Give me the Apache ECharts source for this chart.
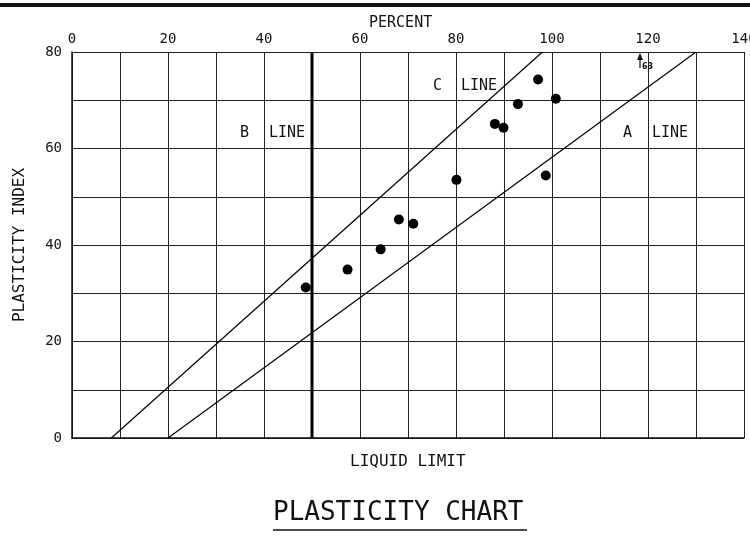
<!DOCTYPE html>
<html>
<head>
<meta charset="utf-8">
<script src="https://cdn.jsdelivr.net/npm/echarts@6/dist/echarts.min.js"></script>
<style>
html,body{margin:0;padding:0;background:#fff;}
#chart{width:750px;height:537px;}
</style>
</head>
<body>
<div id="chart"></div>
<script>
// Data
const liquidLimit = [48.7, 57.4, 64.3, 68.1, 71.1, 80.1, 88.1, 89.9, 92.9, 97.1, 100.8, 98.7];
const plasticityIndex = [31.2, 34.9, 39.1, 45.3, 44.4, 53.5, 65.1, 64.3, 69.2, 74.3, 70.3, 54.4];
const cLineLL = [8.2, 98];
const cLinePI = [0, 80];
const aLineLL = [20, 130];
const aLinePI = [0, 80];
const bLineLL = [50, 50];
const bLinePI = [0, 80];
const xTickLabels = [0, 20, 40, 60, 80, 100, 120, 140];
const yTickLabels = [0, 20, 40, 60, 80];

const FONT = 'DejaVu Sans Mono';
const zip = (a, b) => a.map((v, i) => [v, b[i]]);

const chart = echarts.init(document.getElementById('chart'), null, {renderer: 'canvas'});
const grid = {left: 72, top: 52, width: 672, height: 386, containLabel: false, outerBoundsMode: 'none'};

const option = {
  backgroundColor: '#ffffff',
  animation: false,
  grid: grid,
  xAxis: {
    type: 'value', position: 'top', min: 0, max: 140, interval: 10,
    axisLine: {show: true, lineStyle: {color: '#111', width: 1.5}},
    axisTick: {show: false},
    splitLine: {show: true, lineStyle: {color: '#222', width: 1}},
    axisLabel: {
      margin: 6, color: '#111', fontFamily: FONT, fontSize: 14,
      formatter: v => xTickLabels.includes(v) ? String(v) : ''
    }
  },
  yAxis: {
    type: 'value', min: 0, max: 80, interval: 10,
    axisLine: {show: true, lineStyle: {color: '#111', width: 1.5}},
    axisTick: {show: false},
    splitLine: {show: true, lineStyle: {color: '#222', width: 1}},
    axisLabel: {
      margin: 10, color: '#111', fontFamily: FONT, fontSize: 14,
      formatter: v => yTickLabels.includes(v) ? String(v) : ''
    },
    name: 'PLASTICITY INDEX', nameLocation: 'middle', nameGap: 44, nameRotate: 90,
    nameTextStyle: {color: '#111', fontFamily: FONT, fontSize: 16}
  },
  series: [
    {
      type: 'line', data: zip(bLineLL, bLinePI), symbol: 'none',
      lineStyle: {color: '#000', width: 3}, z: 3
    },
    {
      type: 'line', data: zip(cLineLL, cLinePI), symbol: 'none',
      lineStyle: {color: '#000', width: 1.2}, z: 3
    },
    {
      type: 'line', data: zip(aLineLL, aLinePI), symbol: 'none',
      lineStyle: {color: '#000', width: 1.2}, z: 3
    },
    {
      type: 'scatter', data: zip(liquidLimit, plasticityIndex),
      symbol: 'circle', symbolSize: 10,
      itemStyle: {color: '#000', opacity: 1}, z: 5
    }
  ],
  graphic: [
    {type: 'rect', shape: {x: 0, y: 3, width: 750, height: 4}, style: {fill: '#111'}},
    {type: 'text', left: 369, top: 16, style: {text: 'PERCENT', font: '15px "DejaVu Sans Mono"', fill: '#111'}},
    {type: 'text', left: 433, top: 79, style: {text: 'C', font: '15px "DejaVu Sans Mono"', fill: '#111'}},
    {type: 'text', left: 461, top: 79, style: {text: 'LINE', font: '15px "DejaVu Sans Mono"', fill: '#111'}},
    {type: 'text', left: 240, top: 126, style: {text: 'B', font: '15px "DejaVu Sans Mono"', fill: '#111'}},
    {type: 'text', left: 269, top: 126, style: {text: 'LINE', font: '15px "DejaVu Sans Mono"', fill: '#111'}},
    {type: 'text', left: 623, top: 126, style: {text: 'A', font: '15px "DejaVu Sans Mono"', fill: '#111'}},
    {type: 'text', left: 652, top: 126, style: {text: 'LINE', font: '15px "DejaVu Sans Mono"', fill: '#111'}},
    {type: 'line', shape: {x1: 640, y1: 68, x2: 640, y2: 55}, style: {stroke: '#111', lineWidth: 1.2}},
    {type: 'polygon', shape: {points: [[637, 60], [643, 60], [640, 53]]}, style: {fill: '#111'}},
    {type: 'text', left: 642, top: 63, style: {text: '63', font: 'bold 8px "DejaVu Sans"', fill: '#111'}},
    {type: 'text', left: 350, top: 454, style: {text: 'LIQUID LIMIT', font: '16px "DejaVu Sans Mono"', fill: '#111'}},
    {type: 'text', left: 273, top: 500, style: {text: 'PLASTICITY CHART', font: '26px "DejaVu Sans Mono"', fill: '#111'}},
    {type: 'line', shape: {x1: 273, y1: 530, x2: 527, y2: 530}, style: {stroke: '#111', lineWidth: 1.5}}
  ]
};
chart.setOption(option);
</script>
</body>
</html>
